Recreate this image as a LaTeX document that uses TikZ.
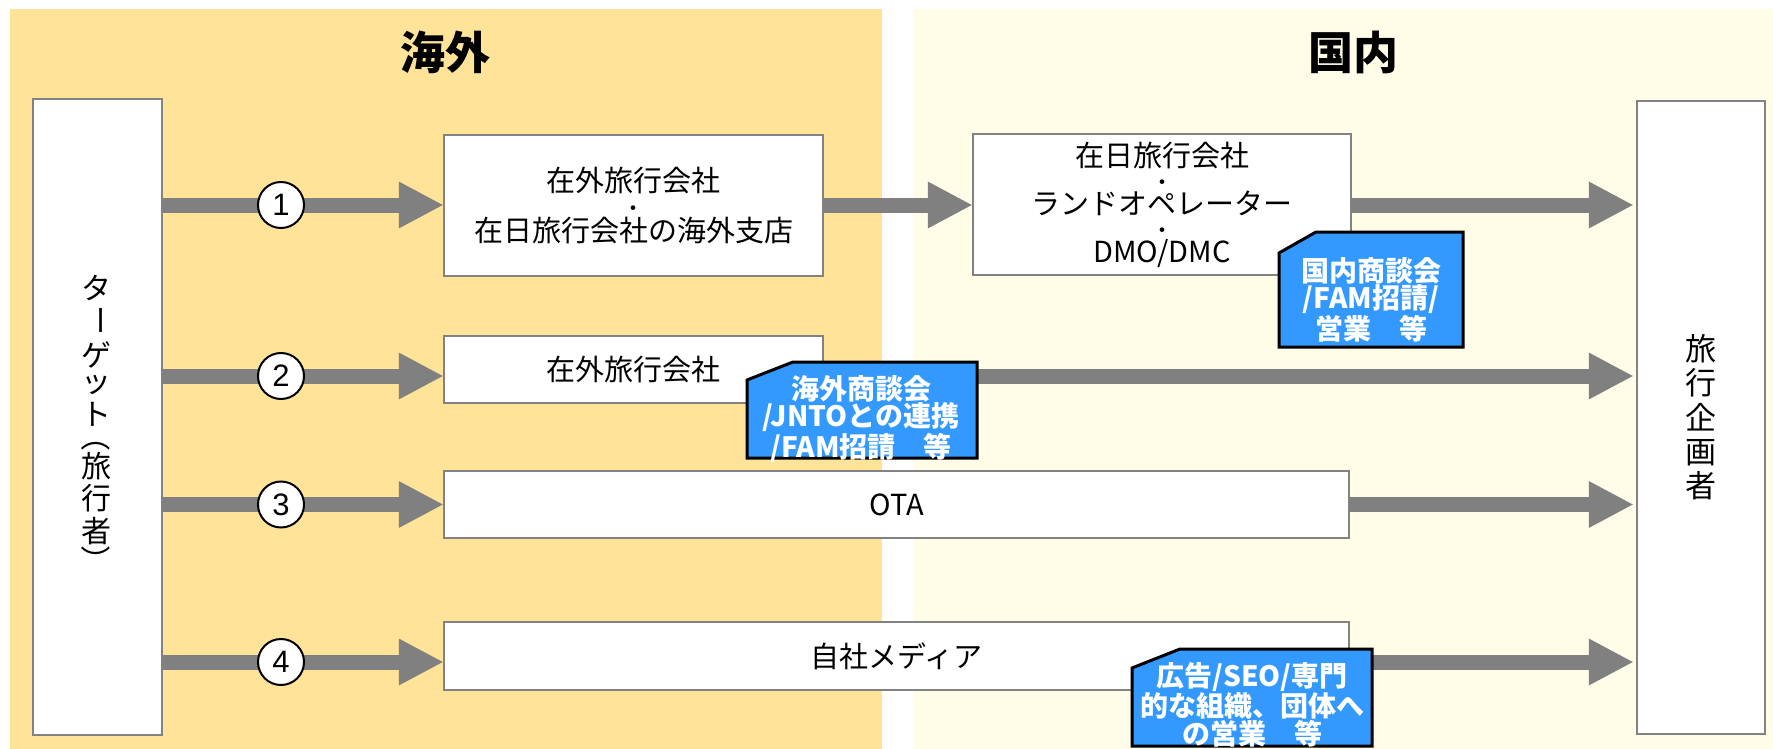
\documentclass[tikz,border=0pt]{standalone}
\usepackage{fontspec}
\setmainfont{Noto Sans CJK JP}
\newfontfamily\numfont{Liberation Sans}
\usetikzlibrary{arrows.meta}
\definecolor{panelA}{RGB}{255,227,153}
\definecolor{panelB}{RGB}{255,253,232}
\definecolor{arrowgray}{RGB}{128,128,128}
\definecolor{tagblue}{RGB}{51,153,255}
\definecolor{boxgray}{RGB}{130,130,130}
\newcommand{\middot}{{\fontsize{22}{22}\selectfont ・}}
\begin{document}
\begin{tikzpicture}[x=1pt,y=-1pt,
  box/.style={draw=boxgray,line width=2.5pt,fill=white,inner sep=0pt,align=center,font=\fontsize{29}{25}\selectfont},
  bigarrow/.style={draw=arrowgray,line width=15pt,-{Triangle[length=44pt,width=47pt,line width=0pt]}},
  numcirc/.style={circle,draw=black,line width=2pt,fill=white,minimum size=46pt,inner sep=0pt,font=\numfont\fontsize{31}{31}\selectfont},
  tagshape/.style={draw=black,line width=3pt,fill=tagblue,line join=miter},
  tagtext/.style={text=white,align=center,inner sep=0pt,font=\fontsize{28}{27}\bfseries\selectfont},
  title/.style={inner sep=0pt,font=\fontsize{45}{45}\bfseries\selectfont},
  vchar/.style={inner sep=0pt,font=\fontsize{30}{30}\selectfont}
]
\useasboundingbox (0,0) rectangle (1773,749);
\fill[white] (0,0) rectangle (1773,749);
% panels
\fill[panelA] (10,9) rectangle (882,749);
\fill[panelB] (913,9) rectangle (1773,749);
\node[title] (tA) at (445,52) {海外};
\node[title] (tB) at (1353,52) {国内};

% boxes
\node[box,minimum width=129pt,minimum height=636pt] (target) at (97.5,417) {};
\foreach \ch/\yy [count=\i] in {タ/288,{\rotatebox[origin=c]{-90}{ー}}/320,ゲ/355,ッ/385,ト/414,{\rotatebox[origin=c]{-90}{（}}/436,旅/466,行/498,者/531,{\rotatebox[origin=c]{-90}{）}}/560}
  \node[vchar] (lv\i) at (96,\yy) {\ch};
\node[box,minimum width=128pt,minimum height=633pt,font=\fontsize{31}{34.3}\selectfont] (planner) at (1701,417.5)
  {旅\\行\\企\\画\\者};
\node[box,minimum width=379pt,minimum height=141pt] (b1) at (633.5,205.5)
  {在外旅行会社\\\middot\\在日旅行会社の海外支店};
\node[box,minimum width=378pt,minimum height=141pt,font=\fontsize{29}{24}\selectfont] (d1) at (1162,204.5)
  {在日旅行会社\\\middot\\ランドオペレーター\\\middot\\DMO/DMC};
\node[box,minimum width=379pt,minimum height=67pt] (b2) at (633.5,369.5) {在外旅行会社};
\node[box,minimum width=905pt,minimum height=67pt] (ota) at (896.5,504.5) {OTA};
\node[box,minimum width=905pt,minimum height=68pt] (media) at (896.5,656) {自社メディア};

% number circle positions
\coordinate (r1) at (281,205);
\coordinate (r2) at (281,376);
\coordinate (r3) at (281,504.5);
\coordinate (r4) at (281,662);

% arrows
\draw[bigarrow] (target.east |- r1) -- (b1.west |- r1);
\draw[bigarrow] (b1.east |- r1) -- (d1.west |- r1);
\draw[bigarrow,shorten >=3pt] (d1.east |- r1) -- (planner.west |- r1);
\draw[bigarrow] (target.east |- r2) -- (b2.west |- r2);
\draw[bigarrow,shorten >=3pt] (b2.east |- r2) -- (planner.west |- r2);
\draw[bigarrow] (target.east |- r3) -- (ota.west |- r3);
\draw[bigarrow,shorten >=3pt] (ota.east |- r3) -- (planner.west |- r3);
\draw[bigarrow] (target.east |- r4) -- (media.west |- r4);
\draw[bigarrow,shorten >=3pt] (media.east |- r4) -- (planner.west |- r4);

\node[numcirc] (c1) at (r1) {1};
\node[numcirc] (c2) at (r2) {2};
\node[numcirc] (c3) at (r3) {3};
\node[numcirc] (c4) at (r4) {4};

% tags
\draw[tagshape] (1279,253) -- (1316,232) -- (1463,232) -- (1463,347) -- (1279,347) -- cycle;
\node[tagtext] (g1) at (1371,300) {国内商談会\\/FAM招請/\\営業　等};
\draw[tagshape] (747,380) -- (793,362) -- (977,362) -- (977,458) -- (747,458) -- cycle;
\node[tagtext] (g2) at (861,419) {海外商談会\\/JNTOとの連携\\/FAM招請　等};
\draw[tagshape] (1132,668) -- (1180,649) -- (1372,649) -- (1372,746) -- (1132,746) -- cycle;
\node[tagtext] (g3) at (1252,705) {広告/SEO/専門\\的な組織、団体へ\\の営業　等};
\end{tikzpicture}
\end{document}
